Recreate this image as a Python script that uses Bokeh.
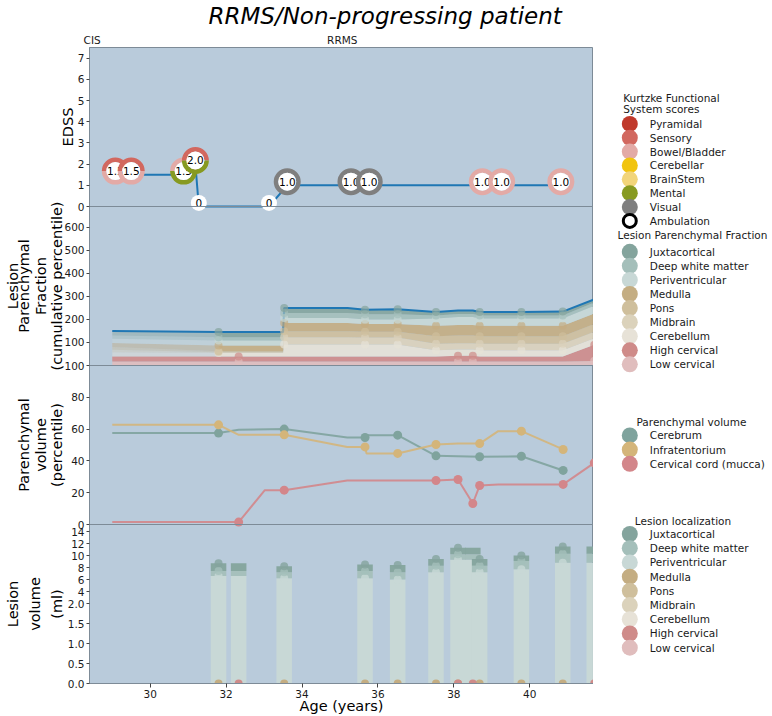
import numpy as np
from math import pi
from bokeh.plotting import figure
from bokeh.models import Range1d, LinearAxis, FixedTicker, Span, ColumnDataSource
from bokeh.layouts import row
from bokeh.transform import dodge
from bokeh.core.properties import value
from bokeh.embed import file_html
from bokeh.resources import INLINE

FONT = "DejaVu Sans"

# ------------------------------------------------------------------ data
title_text = "RRMS/Non-progressing patient"
phase_labels = ["CIS", "RRMS"]
phase_age = [28.47, 35.06]

# EDSS visits
edss_age = [29.08, 29.50, 30.88, 31.19, 31.28, 33.13, 33.61, 35.29, 35.77, 38.75, 39.26, 40.82]
edss_score = [1.5, 1.5, 1.5, 2.0, 0.0, 0.0, 1.0, 1.0, 1.0, 1.0, 1.0, 1.0]
edss_fs = [["Sensory", "Bowel/Bladder"], ["Sensory", "Bowel/Bladder"],
           ["Bowel/Bladder", "Mental"], ["Sensory", "Mental"], [], [],
           ["Visual"], ["Visual"], ["Visual"],
           ["Bowel/Bladder"], ["Bowel/Bladder"], ["Bowel/Bladder"]]

kfs_names = ["Pyramidal", "Sensory", "Bowel/Bladder", "Cerebellar", "BrainStem",
             "Mental", "Visual", "Ambulation"]
kfs_colors = ["#c0392b", "#d2685f", "#e3aaa6", "#f1c40f", "#f2d57a",
              "#879a21", "#7f7f7f", "#ffffff"]

region_names = ["Juxtacortical", "Deep white matter", "Periventricular", "Medulla", "Pons",
                "Midbrain", "Cerebellum", "High cervical", "Low cervical"]
region_colors = ["#84a49d", "#a4bfba", "#c8d8d6", "#c4ad82", "#cfbf9c",
                 "#dbd2bb", "#e7e2d7", "#cf8b89", "#e0bdbd"]

# Lesion parenchymal fraction (percentile per region)
lpf_age = [29.0, 31.8, 32.33, 33.5, 33.53, 35.2, 35.66, 36.52, 37.53, 38.11, 38.5, 38.68, 39.78, 40.87, 41.7]
lpf_juxta      = [20, 22, 22, 22, 22, 22, 20, 22, 15, 15, 15, 15, 15, 17, 14]
lpf_deep       = [14, 14, 14, 14, 22, 22, 22, 22, 13, 14, 14, 13, 13, 13, 14]
lpf_periv      = [18, 22, 22, 22, 22, 22, 20, 20, 32, 34, 34, 32, 32, 32, 33]
lpf_medulla    = [18, 25, 25, 25, 35, 35, 33, 33, 45, 46, 46, 45, 45, 45, 46]
lpf_pons       = [12, 4, 4, 4, 26, 26, 26, 26, 33, 33, 33, 33, 33, 33, 34]
lpf_midbrain   = [10, 4, 4, 4, 32, 32, 30, 30, 28, 28, 28, 28, 28, 28, 28]
lpf_cerebellum = [19, 15, 15, 15, 52, 52, 52, 52, 27, 27, 27, 27, 27, 27, 28]
lpf_high_cerv  = [22, 22, 22, 22, 22, 22, 22, 22, 22, 25, 25, 22, 22, 22, 70]
lpf_low_cerv   = [17, 17, 17, 17, 17, 17, 17, 17, 17, 17, 17, 17, 17, 17, 20]
lpf_brain_scan = [0, 1, 0, 0, 1, 0, 1, 1, 1, 0, 0, 1, 1, 1, 0]
lpf_spine_scan = [0, 0, 1, 0, 0, 0, 0, 0, 0, 1, 1, 0, 0, 0, 1]

# Parenchymal volume (percentile)
pv_names = ["Cerebrum", "Infratentorium", "Cervical cord (mucca)"]
pv_colors = ["#7fa39d", "#d4b57a", "#d3868a"]
cerebrum_age = [29.0, 31.8, 32.33, 33.53, 35.19, 35.66, 35.7, 36.52, 37.53, 38.68, 39.78, 40.88]
cerebrum_val = [57.5, 57.5, 59.6, 60.0, 54.7, 54.7, 56.2, 56.2, 43.2, 42.6, 42.9, 34.0]
cerebrum_scan = [0, 1, 0, 1, 0, 1, 0, 1, 1, 1, 1, 1]
infra_age = [29.0, 31.8, 32.33, 33.53, 35.19, 35.66, 35.7, 36.52, 37.53, 38.11, 38.68, 39.17, 39.78, 40.88]
infra_val = [62.7, 62.7, 56.4, 56.4, 48.8, 48.8, 44.7, 44.7, 50.3, 50.9, 50.9, 58.7, 58.7, 47.2]
infra_scan = [0, 1, 0, 1, 0, 1, 0, 1, 1, 0, 1, 0, 1, 1]
cord_age = [29.0, 32.33, 33.02, 33.53, 35.19, 37.53, 38.11, 38.5, 38.68, 39.17, 40.88, 41.7]
cord_val = [1.5, 1.5, 21.6, 21.6, 27.7, 27.7, 28.3, 13.2, 24.5, 25.2, 25.2, 38.8]
cord_scan = [0, 1, 0, 1, 0, 1, 1, 1, 1, 0, 1, 1]

# Lesion volume (ml)
lv_age = [31.8, 32.33, 33.53, 35.66, 36.52, 37.53, 38.11, 38.5, 38.68, 39.78, 40.87, 41.7]
lv_periv = [6.6, 6.6, 6.2, 6.2, 6.0, 7.2, 9.3, 9.3, 7.2, 7.7, 8.8, 8.8]
lv_deep  = [0.8, 0.8, 1.0, 1.2, 1.2, 1.1, 0.9, 0.9, 1.1, 1.4, 1.5, 1.5]
lv_juxta = [1.3, 1.3, 1.0, 1.1, 1.2, 1.1, 1.1, 1.1, 1.1, 0.9, 1.2, 1.2]
lv_brain_scan = [1, 0, 1, 1, 1, 1, 1, 0, 1, 1, 1, 0]
lv_spine_scan = [0, 1, 0, 0, 0, 0, 1, 1, 0, 0, 0, 1]

# ticks
edss_ticks = [0, 1, 2, 3, 4, 5, 6, 7]
lpf_ticks = [100, 200, 300, 400, 500, 600]
pv_ticks = [0, 20, 40, 60, 80, 100]
lv_ticks = [0.0, 0.5, 1.0, 1.5, 2.0, 4, 6, 8, 10, 12, 14]
lv_tick_labels = ["0.0", "0.5", "1.0", "1.5", "2.0", "4", "6", "8", "10", "12", "14"]
age_ticks = [30, 32, 34, 36, 38, 40]

# band (panel) y labels, one list of lines per band
ylabel_lines = {"edss": ["EDSS"],
                "lpf": ["Lesion", "Parenchymal", "Fraction", "(cumulative percentile)"],
                "pv": ["Parenchymal", "volume", "(percentile)"],
                "lv": ["Lesion", "volume", "(ml)"]}

# ------------------------------------------------------------------ style / layout
BG = "#b9cbdb"
SPINE = "#7d8b97"
BLUE = "#1f77b4"
TXT = "#1a1a1a"
TICK_FS = "10.5px"
LAB_FS = "14.5px"

W_TOTAL, H_TOTAL = 772, 716
W_LEG = 179
X_START, X_END = 28.4, 41.68
EDSS_TOP, LPF_TOP, PV_TOP = 7.5, 690.0, 100.0
LV_BREAK, LV_SQUEEZE, LV_TOP = 2.0, 0.15, 3.975
EDSS_LIFT = 0.17
LV_BAR_W = 0.41

# label columns in the left margin (0 = closest to the tick labels) for each label line,
# and the standoff of each column
ylabel_cols = {"edss": [0], "lpf": [6, 4, 2, 1], "pv": [4, 2, 1], "lv": [5, 3, 1]}
COLUMN_STANDOFF = [-14, -8, -3, -13, -8, -8, -19]


def lv_scale(v):
    v = np.asarray(v, dtype=float)
    return np.where(v <= LV_BREAK, v, LV_BREAK + (v - LV_BREAK) * LV_SQUEEZE)


BANDS = {"edss": (3, EDSS_TOP), "lpf": (2, LPF_TOP), "pv": (1, PV_TOP), "lv": (0, LV_TOP)}
NB = 4


def band_pos(name, v):
    k, top = BANDS[name]
    return float(k + float(v) / top)


p = figure(width=W_TOTAL - W_LEG, height=H_TOTAL,
           x_range=Range1d(X_START, X_END), y_range=Range1d(0, NB),
           output_backend="svg", toolbar_location=None,
           min_border_left=89, min_border_right=0, min_border_top=47, min_border_bottom=32,
           background_fill_color=BG, border_fill_color="white",
           outline_line_color=SPINE, outline_line_width=1)
p.extra_y_ranges = {n: Range1d(-k * t, (NB - k) * t) for n, (k, t) in BANDS.items()}
p.xgrid.visible = False
p.ygrid.visible = False

p.title.text = title_text
p.title.text_font = FONT
p.title.text_font_size = "23px"
p.title.text_font_style = "italic"
p.title.text_color = "black"
p.title.align = "left"
p.title.offset = 119
p.title.standoff = 0
p.title.vertical_align = "top"

# y axis (one axis, four bands)
ytv, ytt = [], []
for t in edss_ticks:
    ytv.append(band_pos("edss", t)); ytt.append(str(t))
for t in lpf_ticks:
    ytv.append(band_pos("lpf", t)); ytt.append(str(t))
for t in pv_ticks:
    ytv.append(band_pos("pv", t)); ytt.append(str(t))
for t, s in zip(lv_scale(lv_ticks), lv_tick_labels):
    ytv.append(band_pos("lv", t)); ytt.append(s)
ya = p.yaxis[0]
ya.ticker = FixedTicker(ticks=ytv)
ya.major_label_overrides = dict(zip(ytv, ytt))
ya.major_label_text_font = FONT
ya.major_label_text_font_size = TICK_FS
ya.major_label_text_color = TXT
ya.major_tick_out = 3
ya.major_tick_in = 0
ya.major_tick_line_color = "#444444"
ya.axis_line_color = SPINE
ya.major_label_standoff = 2

# band titles: label-only axes stacked outward in the left panel
label_columns = {}
for name, lines in ylabel_lines.items():
    k, _ = BANDS[name]
    for line, col in zip(lines, ylabel_cols[name]):
        label_columns.setdefault(col, []).append((k + 0.5, line))
for col in sorted(label_columns):
    pos = [float(t) for t, _ in label_columns[col]]
    txt = [s for _, s in label_columns[col]]
    p.add_layout(LinearAxis(ticker=FixedTicker(ticks=pos),
                            major_label_overrides=dict(zip(pos, txt)),
                            major_label_orientation="vertical",
                            major_tick_out=0, major_tick_in=0, axis_line_color=None,
                            major_label_text_font=FONT, major_label_text_font_size=LAB_FS,
                            major_label_text_color="black",
                            major_label_standoff=COLUMN_STANDOFF[col]), "left")

xa = p.xaxis[0]
xa.ticker = FixedTicker(ticks=age_ticks)
xa.axis_label = "Age (years)"
xa.axis_label_text_font = FONT
xa.axis_label_text_font_size = LAB_FS
xa.axis_label_text_font_style = "normal"
xa.axis_label_text_color = "black"
xa.axis_label_standoff = -3
xa.major_label_text_font = FONT
xa.major_label_text_font_size = TICK_FS
xa.major_label_text_color = TXT
xa.major_tick_out = 4
xa.major_tick_in = 0
xa.major_tick_line_color = "#444444"
xa.axis_line_color = SPINE
xa.major_label_standoff = 2

top_ax = LinearAxis(ticker=FixedTicker(ticks=phase_age),
                    major_label_overrides=dict(zip(phase_age, phase_labels)),
                    major_tick_out=0, major_tick_in=0, axis_line_color=None,
                    major_label_text_font=FONT, major_label_text_font_size=TICK_FS,
                    major_label_text_color=TXT, major_label_standoff=2)
p.add_layout(top_ax, "above")

for k in (1, 2, 3):
    p.add_layout(Span(location=k, dimension="width", line_color=SPINE, line_width=1))

# ------------------------------------------------------------------ panel 1: EDSS
fs_color = dict(zip(kfs_names, kfs_colors))
p.line(edss_age, edss_score, y_range_name="edss", line_color=BLUE, line_width=2)
for a, s, fs in zip(edss_age, edss_score, edss_fs):
    n = len(fs)
    ylift = dodge("y", EDSS_LIFT)
    if n:
        wsrc = ColumnDataSource(dict(x=[a] * n, y=[s] * n,
                                     start=[2 * pi * j / n for j in range(n)],
                                     end=[2 * pi * (j + 1) / n for j in range(n)],
                                     color=[fs_color[f] for f in fs]))
        p.annular_wedge(x="x", y=ylift, inner_radius=9, outer_radius=13.5,
                        inner_radius_units="screen", outer_radius_units="screen",
                        start_angle="start", end_angle="end", fill_color="color",
                        line_color=None, source=wsrc, y_range_name="edss")
    ssrc = ColumnDataSource(dict(x=[a], y=[s], t=["0" if s == 0 else f"{s:.1f}"]))
    p.scatter(x="x", y=ylift, size=18 if n else 16, fill_color="white", line_color=None,
              source=ssrc, y_range_name="edss")
    p.text(x="x", y=ylift, text="t", source=ssrc, y_range_name="edss",
           text_font=value(FONT), text_font_size="10.5px", text_color="black",
           text_align="center", text_baseline="middle")

# ------------------------------------------------------------------ panel 2: lesion parenchymal fraction
lpf_bottom_up = [lpf_low_cerv, lpf_high_cerv, lpf_cerebellum, lpf_midbrain, lpf_pons,
                 lpf_medulla, lpf_periv, lpf_deep, lpf_juxta]
col_bottom_up = region_colors[::-1]
lpf_cum = np.cumsum(np.array(lpf_bottom_up, dtype=float), axis=0)
first_scan = lpf_brain_scan.index(1)
n_spine = 2
for i in range(len(lpf_bottom_up)):
    lower = lpf_cum[i - 1] if i else np.zeros(len(lpf_age))
    if i < n_spine:
        p.varea(x=lpf_age, y1=lower, y2=lpf_cum[i], fill_color=col_bottom_up[i],
                fill_alpha=0.9, y_range_name="lpf")
    else:
        p.varea(x=lpf_age[:first_scan + 1], y1=lower[:first_scan + 1], y2=lpf_cum[i][:first_scan + 1],
                fill_color=col_bottom_up[i], fill_alpha=0.45, y_range_name="lpf")
        p.varea(x=lpf_age[first_scan:], y1=lower[first_scan:], y2=lpf_cum[i][first_scan:],
                fill_color=col_bottom_up[i], fill_alpha=0.9, y_range_name="lpf")
p.line(lpf_age, lpf_cum[-1], line_color=BLUE, line_width=2, y_range_name="lpf")
for i in range(len(lpf_bottom_up)):
    flags = lpf_spine_scan if i < n_spine else lpf_brain_scan
    xs = [a for a, f in zip(lpf_age, flags) if f]
    ys = [v for v, f in zip(lpf_cum[i], flags) if f]
    p.scatter(xs, ys, size=8, fill_color=col_bottom_up[i], fill_alpha=0.7, line_color=None,
              y_range_name="lpf")

# ------------------------------------------------------------------ panel 3: parenchymal volume
for ages, vals, flags, col in [(cerebrum_age, cerebrum_val, cerebrum_scan, pv_colors[0]),
                               (infra_age, infra_val, infra_scan, pv_colors[1]),
                               (cord_age, cord_val, cord_scan, pv_colors[2])]:
    p.line(ages, vals, line_color=col, line_width=2, line_alpha=0.9, y_range_name="pv")
    p.scatter([a for a, f in zip(ages, flags) if f], [v for v, f in zip(vals, flags) if f],
              size=9, fill_color=col, line_color=None, y_range_name="pv")

# ------------------------------------------------------------------ panel 4: lesion volume
lv_layers = [lv_periv, lv_deep, lv_juxta]
lv_cols = [region_colors[2], region_colors[1], region_colors[0]]
lv_cum = np.cumsum(np.array(lv_layers, dtype=float), axis=0)
for i in range(len(lv_layers)):
    lower = lv_cum[i - 1] if i else np.zeros(len(lv_age))
    p.vbar(x=lv_age, width=LV_BAR_W, bottom=lv_scale(lower), top=lv_scale(lv_cum[i]),
           fill_color=lv_cols[i], fill_alpha=0.95, line_color=None, y_range_name="lv")
for i in range(len(lv_layers)):
    p.scatter([a for a, f in zip(lv_age, lv_brain_scan) if f],
              [v for v, f in zip(lv_scale(lv_cum[i]), lv_brain_scan) if f],
              size=8, fill_color=lv_cols[i], fill_alpha=0.8, line_color=None, y_range_name="lv")
p.scatter([a for a, f in zip(lv_age, lv_brain_scan) if f], [0.0] * sum(lv_brain_scan),
          size=8, fill_color=region_colors[3], line_color=None, y_range_name="lv")
p.scatter([a for a, f in zip(lv_age, lv_spine_scan) if f], [0.0] * sum(lv_spine_scan),
          size=8, fill_color=region_colors[7], line_color=None, y_range_name="lv")

# ------------------------------------------------------------------ legends (right side figure)
lg = figure(width=W_LEG, height=H_TOTAL, x_range=Range1d(0, W_LEG), y_range=Range1d(H_TOTAL, 0),
            output_backend="svg", toolbar_location=None, x_axis_location=None,
            y_axis_location=None, min_border=0, outline_line_color=None,
            background_fill_color="white", border_fill_color="white")
lg.grid.visible = False

MK_X, LBL_X = 36.3, 56.3
LEG_FS = "10.5px"
legend_groups = [
    (["Kurtzke Functional", "System scores"], kfs_names, kfs_colors, 29.7, 57.3, 86.0, 15.6),
    (["Lesion Parenchymal Fraction"], region_names, region_colors, 24.0, 210.7, 230.0, 15.84),
    (["Parenchymal volume"], pv_names, pv_colors, 43.0, 421.7, 436.7, 16.0),
    (["Lesion localization"], region_names, region_colors, 41.3, 533.3, 547.7, 16.0),
]
for titles, names, cols, tx, ty, y0, pitch in legend_groups:
    lg.text(x=[tx] * len(titles), y=[ty + 12 * j for j in range(len(titles))], text=titles,
            text_font=value(FONT), text_font_size=LEG_FS, text_color=TXT,
            text_align="left", text_baseline="middle")
    ys = [y0 + pitch * j for j in range(len(names))]
    is_ring = [nm == "Ambulation" for nm in names]
    lg.scatter(x=[MK_X] * len(names), y=ys, size=[13 if r else 16 for r in is_ring],
               fill_color=cols, line_color="black", line_width=3,
               line_alpha=[1.0 if r else 0.0 for r in is_ring])
    lg.text(x=[LBL_X] * len(names), y=ys, text=names, text_font=value(FONT),
            text_font_size=LEG_FS, text_color=TXT, text_align="left", text_baseline="middle")

layout = row(p, lg)
open("out.html", "w").write(file_html(layout, INLINE, title=title_text))
